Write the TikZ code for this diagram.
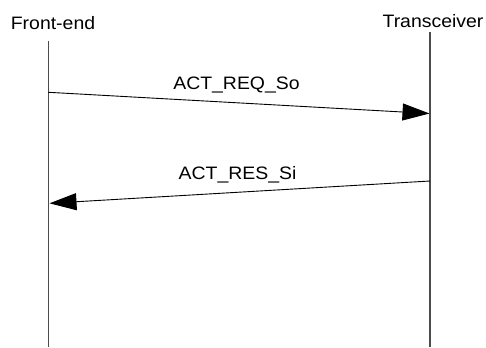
\documentclass[tikz,border=0pt]{standalone}
\usepackage{fontspec}
\setmainfont{Liberation Sans}[FakeStretch=1.08]
\usepackage{tikz}
\usetikzlibrary{arrows.meta}
\tikzset{
  lifeline/.style={draw=black!70, line width=1.3bp},
  msg/.style={draw=black, line width=0.9bp, -{Triangle[length=27bp, width=17bp]}},
  lbl/.style={anchor=base, inner sep=0pt, font=\fontsize{18bp}{20bp}\selectfont}
}

\begin{document}
\begin{tikzpicture}[x=1bp, y=-1bp]

\useasboundingbox (0, 0) rectangle (486, 347);

\node[lbl] (fe) at (53, 29) {Front-end};
\node[lbl] (tr) at (433, 27.3) {Transceiver};

\coordinate (fe-top) at (48.5, 41);
\coordinate (fe-bot) at (48.5, 347);
\coordinate (tr-top) at (430, 32);
\coordinate (tr-bot) at (430, 347);

\draw[lifeline] (fe-top) -- (fe-bot);
\draw[lifeline] (tr-top) -- (tr-bot);

\coordinate (req-a) at (48.5, 92.3);
\coordinate (req-b) at (429.5, 113.5);
\coordinate (res-a) at (430, 181);
\coordinate (res-b) at (49.5, 203.3);

\draw[msg] (req-a) -- (req-b);
\node[lbl] (req) at (236.5, 89.3) {ACT\_REQ\_So};

\draw[msg] (res-a) -- (res-b);
\node[lbl] (res) at (237.5, 179) {ACT\_RES\_Si};

\end{tikzpicture}
\end{document}
